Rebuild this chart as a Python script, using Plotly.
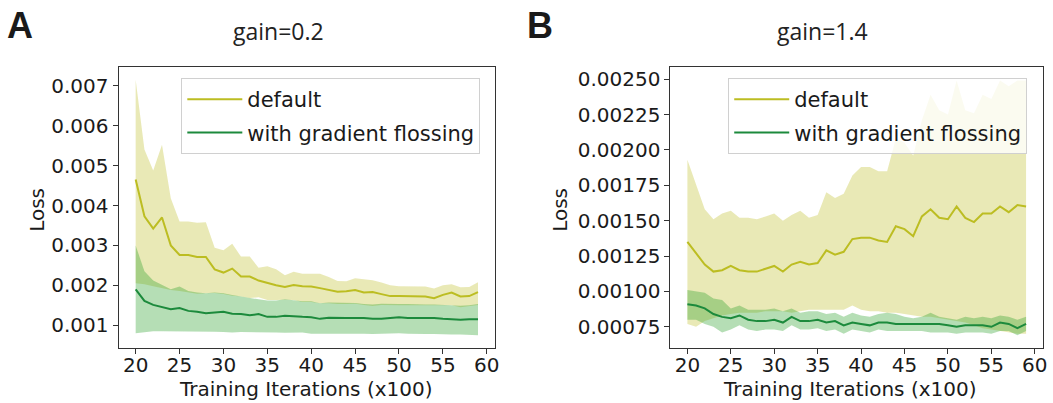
import plotly.graph_objects as go

# ---------------- data ----------------
iterations = list(range(20, 60))  # x100

# Panel A (gain=0.2)
a_def_mean = [0.00465, 0.00373, 0.00342, 0.00370, 0.00300, 0.00276, 0.00276, 0.00271, 0.00271, 0.00240,
              0.00232, 0.00242, 0.00222, 0.00222, 0.00212, 0.00206, 0.00200, 0.00196, 0.00201, 0.00198,
              0.00197, 0.00193, 0.00189, 0.00184, 0.00185, 0.00188, 0.00182, 0.00183, 0.00178, 0.00173,
              0.00173, 0.00173, 0.00173, 0.00172, 0.00168, 0.00176, 0.00182, 0.00172, 0.00173, 0.00183]
a_def_up = [0.00715, 0.00540, 0.00488, 0.00552, 0.00418, 0.00360, 0.00360, 0.00357, 0.00358, 0.00294,
            0.00288, 0.00304, 0.00272, 0.00272, 0.00244, 0.00248, 0.00240, 0.00225, 0.00234, 0.00229,
            0.00229, 0.00229, 0.00221, 0.00211, 0.00210, 0.00218, 0.00215, 0.00213, 0.00207, 0.00200,
            0.00198, 0.00198, 0.00198, 0.00197, 0.00192, 0.00200, 0.00203, 0.00195, 0.00196, 0.00208]
a_def_lo = [0.00205, 0.00203, 0.00198, 0.00193, 0.00188, 0.00186, 0.00182, 0.00179, 0.00180, 0.00181,
            0.00178, 0.00174, 0.00172, 0.00168, 0.00170, 0.00163, 0.00163, 0.00164, 0.00163, 0.00158,
            0.00158, 0.00155, 0.00155, 0.00153, 0.00153, 0.00154, 0.00151, 0.00148, 0.00151, 0.00150,
            0.00150, 0.00150, 0.00150, 0.00149, 0.00149, 0.00149, 0.00150, 0.00145, 0.00148, 0.00151]
a_gf_mean = [0.00190, 0.00161, 0.00151, 0.00146, 0.00140, 0.00143, 0.00136, 0.00134, 0.00130, 0.00132,
             0.00134, 0.00129, 0.00128, 0.00125, 0.00128, 0.00121, 0.00121, 0.00124, 0.00122, 0.00121,
             0.00120, 0.00116, 0.00119, 0.00118, 0.00118, 0.00118, 0.00118, 0.00116, 0.00116, 0.00118,
             0.00120, 0.00118, 0.00118, 0.00118, 0.00118, 0.00116, 0.00115, 0.00114, 0.00115, 0.00115]
a_gf_up = [0.00300, 0.00235, 0.00212, 0.00200, 0.00190, 0.00197, 0.00186, 0.00182, 0.00180, 0.00182,
           0.00180, 0.00176, 0.00172, 0.00168, 0.00165, 0.00162, 0.00162, 0.00165, 0.00162, 0.00160,
           0.00160, 0.00155, 0.00157, 0.00157, 0.00157, 0.00156, 0.00153, 0.00152, 0.00154, 0.00153,
           0.00153, 0.00153, 0.00152, 0.00152, 0.00152, 0.00151, 0.00150, 0.00149, 0.00150, 0.00153]
a_gf_lo = [0.00080, 0.00083, 0.00085, 0.00085, 0.00085, 0.00085, 0.00085, 0.00084, 0.00084, 0.00084,
           0.00083, 0.00082, 0.00083, 0.00083, 0.00082, 0.00082, 0.00082, 0.00081, 0.00082, 0.00082,
           0.00079, 0.00079, 0.00080, 0.00080, 0.00079, 0.00080, 0.00079, 0.00078, 0.00079, 0.00079,
           0.00080, 0.00079, 0.00078, 0.00078, 0.00078, 0.00077, 0.00077, 0.00077, 0.00076, 0.00075]

# Panel B (gain=1.4)
b_def_mean = [0.00135, 0.00127, 0.00119, 0.00114, 0.00115, 0.00118, 0.00115, 0.00114, 0.00114, 0.00116,
              0.00118, 0.00114, 0.00119, 0.00121, 0.00119, 0.00120, 0.00129, 0.00126, 0.00128, 0.00137,
              0.00138, 0.00138, 0.00136, 0.00135, 0.00146, 0.00144, 0.00139, 0.00153, 0.00158, 0.00152,
              0.00151, 0.00160, 0.00152, 0.00149, 0.00155, 0.00155, 0.00160, 0.00156, 0.00161, 0.00160]
b_def_up = [0.00193, 0.00176, 0.00158, 0.00151, 0.00155, 0.00157, 0.00152, 0.00152, 0.00151, 0.00153,
            0.00155, 0.00150, 0.00154, 0.00157, 0.00152, 0.00154, 0.00170, 0.00166, 0.00169, 0.00182,
            0.00188, 0.00188, 0.00185, 0.00185, 0.00208, 0.00205, 0.00196, 0.00221, 0.00239, 0.00228,
            0.00225, 0.00249, 0.00228, 0.00226, 0.00239, 0.00236, 0.00249, 0.00245, 0.00249, 0.00249]
b_def_lo = [0.00077, 0.00075, 0.00079, 0.00081, 0.00083, 0.00084, 0.00085, 0.00085, 0.00085, 0.00086,
            0.00086, 0.00086, 0.00085, 0.00086, 0.00087, 0.00087, 0.00087, 0.00087, 0.00087, 0.00090,
            0.00087, 0.00086, 0.00086, 0.00085, 0.00085, 0.00084, 0.00083, 0.00082, 0.00082, 0.00081,
            0.00080, 0.00079, 0.00078, 0.00076, 0.00074, 0.00073, 0.00072, 0.00071, 0.00070, 0.00070]
b_gf_mean = [0.00091, 0.00090, 0.00088, 0.00084, 0.00082, 0.00081, 0.00083, 0.00080, 0.00079, 0.00079,
             0.00080, 0.00078, 0.00082, 0.00079, 0.00079, 0.00080, 0.00078, 0.00079, 0.00076, 0.00078,
             0.00077, 0.00076, 0.00078, 0.00078, 0.00077, 0.00077, 0.00077, 0.00077, 0.00077, 0.00077,
             0.00076, 0.00075, 0.00076, 0.00076, 0.00076, 0.00075, 0.00078, 0.00077, 0.00074, 0.00077]
b_gf_up = [0.00101, 0.00100, 0.00099, 0.00095, 0.00094, 0.00088, 0.00090, 0.00087, 0.00087, 0.00087,
           0.00088, 0.00086, 0.00088, 0.00085, 0.00086, 0.00086, 0.00084, 0.00085, 0.00082, 0.00085,
           0.00083, 0.00082, 0.00084, 0.00085, 0.00084, 0.00082, 0.00081, 0.00082, 0.00085, 0.00082,
           0.00081, 0.00080, 0.00082, 0.00081, 0.00082, 0.00081, 0.00083, 0.00082, 0.00080, 0.00082]
b_gf_lo = [0.00080, 0.00080, 0.00077, 0.00075, 0.00071, 0.00073, 0.00076, 0.00073, 0.00072, 0.00073,
           0.00073, 0.00072, 0.00076, 0.00073, 0.00073, 0.00074, 0.00072, 0.00073, 0.00070, 0.00073,
           0.00072, 0.00071, 0.00073, 0.00072, 0.00072, 0.00072, 0.00072, 0.00072, 0.00071, 0.00071,
           0.00071, 0.00070, 0.00071, 0.00071, 0.00071, 0.00070, 0.00072, 0.00072, 0.00069, 0.00072]

series_names = ["default", "with gradient flossing"]
panel_titles = ["gain=0.2", "gain=1.4"]
panel_letters = ["A", "B"]
x_title = "Training Iterations (x100)"
y_title = "Loss"
x_ticks = [20, 25, 30, 35, 40, 45, 50, 55, 60]
a_y_ticks = [0.001, 0.002, 0.003, 0.004, 0.005, 0.006, 0.007]
b_y_ticks = [0.00075, 0.00100, 0.00125, 0.00150, 0.00175, 0.00200, 0.00225, 0.00250]

# ---------------- styling ----------------
W, H = 1053, 403
DEF_LINE = "#bcbd22"
DEF_FILL = "rgba(188,189,34,0.33)"
GF_LINE = "#1c8a3c"
GF_FILL = "rgba(44,160,44,0.35)"
TICK_FONT = dict(family="DejaVu Sans", size=20, color="#1a1a1a")


def px(x):
    return x / W


def py(y):
    return 1 - y / H


fig = go.Figure()


def add_panel(xa, ya, legend, dm, du, dl, gm, gu, gl):
    sets = [(du, dl, dm, DEF_FILL, DEF_LINE, series_names[0]),
            (gu, gl, gm, GF_FILL, GF_LINE, series_names[1])]
    for up, lo, mean, fc, lc, name in sets:
        fig.add_trace(go.Scatter(x=iterations, y=up, mode="lines", line=dict(width=0, color=fc),
                                 xaxis=xa, yaxis=ya, showlegend=False, hoverinfo="skip"))
        fig.add_trace(go.Scatter(x=iterations, y=lo, mode="lines", line=dict(width=0, color=fc),
                                 fill="tonexty", fillcolor=fc,
                                 xaxis=xa, yaxis=ya, showlegend=False, hoverinfo="skip"))
        fig.add_trace(go.Scatter(x=iterations, y=mean, mode="lines", line=dict(width=2, color=lc),
                                 name=name, legendgroup=legend + name,
                                 xaxis=xa, yaxis=ya, legend=legend))


add_panel("x", "y", "legend", a_def_mean, a_def_up, a_def_lo, a_gf_mean, a_gf_up, a_gf_lo)
add_panel("x2", "y2", "legend2", b_def_mean, b_def_up, b_def_lo, b_gf_mean, b_gf_up, b_gf_lo)

axis_common = dict(showline=True, mirror=True, linecolor="#333333", linewidth=1,
                   ticks="outside", ticklen=5, tickwidth=1, tickcolor="#333333",
                   showgrid=False, zeroline=False, tickfont=TICK_FONT)

legend_common = dict(xanchor="left", yanchor="top", traceorder="grouped", tracegroupgap=3,
                     itemwidth=55,
                     bgcolor="rgba(255,255,255,0.8)", bordercolor="#d0d0d0", borderwidth=1,
                     font=dict(family="DejaVu Sans", size=21, color="#1a1a1a"))

fig.update_layout(
    width=W, height=H,
    margin=dict(l=0, r=0, t=0, b=0),
    paper_bgcolor="white", plot_bgcolor="white",
    xaxis=dict(domain=[px(119), px(497)], range=[18.05, 60.95], tickvals=x_ticks, anchor="y",
               ticklabelstandoff=-6, **axis_common),
    yaxis=dict(domain=[py(348), py(67)], range=[0.00043, 0.00747], tickvals=a_y_ticks,
               tickformat=".3f", anchor="x", **axis_common),
    xaxis2=dict(domain=[px(673), px(1047)], range=[18.05, 60.95], tickvals=x_ticks, anchor="y2",
                ticklabelstandoff=-6, **axis_common),
    yaxis2=dict(domain=[py(348), py(67)], range=[0.000600, 0.002586], tickvals=b_y_ticks,
                tickformat=".5f", anchor="x2", **axis_common),
    legend=dict(x=px(182), y=py(78), **legend_common),
    legend2=dict(x=px(731), y=py(78), **legend_common),
)

annotations = []
# panel titles
for title, cx in zip(panel_titles, [280, 826]):
    annotations.append(dict(text=title, x=px(cx), y=py(31), xref="paper", yref="paper",
                            showarrow=False, xanchor="center", yanchor="middle",
                            font=dict(family="Open Sans", size=23, color="#222222")))
# panel letters
for letter, cx in zip(panel_letters, [20, 542]):
    annotations.append(dict(text="<b>" + letter + "</b>", x=px(cx), y=py(26), xref="paper", yref="paper",
                            showarrow=False, xanchor="center", yanchor="middle",
                            font=dict(family="Liberation Sans Narrow, Liberation Sans", size=36, color="#1a1a1a")))
# axis titles
for cx in [307, 853]:
    annotations.append(dict(text=x_title, x=px(cx), y=py(389), xref="paper", yref="paper",
                            showarrow=False, xanchor="center", yanchor="middle",
                            font=dict(family="DejaVu Sans", size=20, color="#1a1a1a")))
for cx in [37, 562]:
    annotations.append(dict(text=y_title, x=px(cx), y=py(210), xref="paper", yref="paper",
                            showarrow=False, xanchor="center", yanchor="middle", textangle=-90,
                            font=dict(family="DejaVu Sans", size=20, color="#1a1a1a")))
fig.update_layout(annotations=annotations)

fig.write_html("out.html", config={"displayModeBar": False},
               post_script="document.body.style.margin='0';document.body.style.overflow='hidden';")
